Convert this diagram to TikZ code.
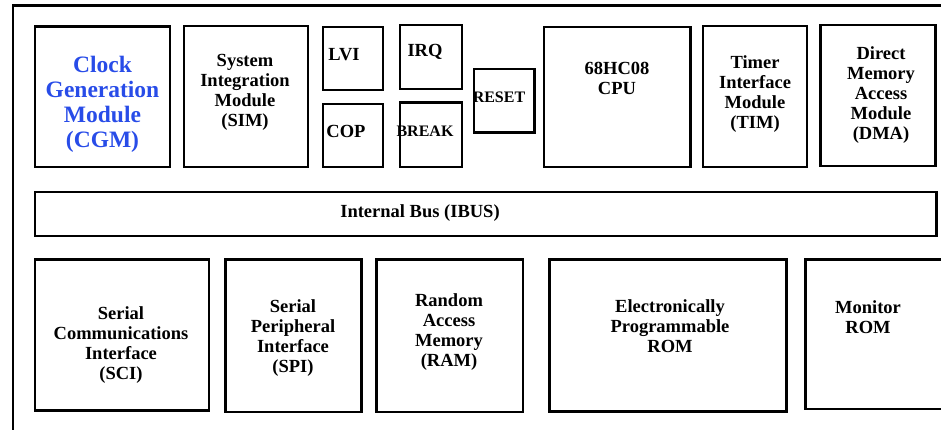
\documentclass[tikz,border=0pt]{standalone}
\usepackage{fontspec}
\setmainfont{Liberation Serif}
\usetikzlibrary{positioning, fit}

\definecolor{cgmblue}{RGB}{40,76,232}

\begin{document}
\begin{tikzpicture}[x=1pt, y=-1pt,
    blk/.style={draw, line width=2.6pt, inner sep=0pt},
    lbl/.style={inner sep=0pt, align=center, font=\fontsize{18.5}{20}\selectfont\bfseries},
    small/.style={inner sep=0pt, align=center, font=\fontsize{16}{18}\selectfont\bfseries}]

    \useasboundingbox (0, 0) rectangle (941, 429);
    \clip (0, 0) rectangle (941, 429);

    % outer frame, runs off the page to the right and bottom
    \draw[line width=2.6pt] (13, 460) -- (13, 5.5) -- (960, 5.5);

    % top row
    \node[blk, fit={(35, 26.5) (170, 167)}] (cgm) {};
    \node[blk, fit={(184, 26) (308, 167)}] (sim) {};
    \node[blk, fit={(323, 27) (383, 90)}] (lvi) {};
    \node[blk, fit={(323, 104) (383, 167)}] (cop) {};
    \node[blk, fit={(400, 25) (462, 89)}] (irq) {};
    \node[blk, fit={(400, 102.5) (462, 167)}] (brk) {};
    \node[blk, fit={(474, 69) (534.5, 132.5)}] (reset) {};
    \node[blk, fit={(544, 27) (690.5, 167)}] (cpu) {};
    \node[blk, fit={(703, 26) (807, 167)}] (tim) {};
    \node[blk, fit={(820.5, 25) (935.5, 166)}] (dma) {};

    \node[lbl, text=cgmblue, font=\fontsize{23.5}{25}\selectfont\bfseries] (cgmtxt) at (102.5, 104) {Clock\\Generation\\Module\\(CGM)};
    \node[lbl] (simtxt) at (245, 92) {System\\Integration\\Module\\(SIM)};
    \node[lbl] (lvitxt) at (344, 55) {LVI};
    \node[lbl] (coptxt) at (346, 131) {COP};
    \node[lbl] (irqtxt) at (425, 52) {IRQ};
    \node[small] (brktxt) at (425, 131) {BREAK};
    \node[small] (resettxt) at (499, 97) {RESET};
    \node[lbl] (cputxt) at (617, 78) {68HC08\\CPU};
    \node[lbl] (timtxt) at (755, 94) {Timer\\Interface\\Module\\(TIM)};
    \node[lbl] (dmatxt) at (881, 95) {Direct\\Memory\\Access\\Module\\(DMA)};

    % bus
    \node[blk, fit={(35, 192) (936.5, 236)}] (ibus) {};
    \node[lbl] (ibustxt) at (420, 213) {Internal Bus (IBUS)};

    % bottom row
    \node[blk, fit={(35, 259.5) (209, 410.5)}] (sci) {};
    \node[blk, fit={(225.5, 259.5) (361.5, 412)}] (spi) {};
    \node[blk, fit={(376.5, 259.5) (523, 412)}] (ram) {};
    \node[blk, fit={(549.5, 259.5) (786.5, 411.5)}] (eprom) {};
    \node[blk, fit={(805.5, 259.5) (948, 409)}] (mon) {};

    \node[lbl] (scitxt) at (121, 345) {Serial\\Communications\\Interface\\(SCI)};
    \node[lbl] (spitxt) at (293, 338) {Serial\\Peripheral\\Interface\\(SPI)};
    \node[lbl] (ramtxt) at (449, 332) {Random\\Access\\Memory\\(RAM)};
    \node[lbl] (epromtxt) at (670, 326) {Electronically\\Programmable\\ROM};
    \node[lbl] (montxt) at (868, 317) {Monitor\\ROM};

\end{tikzpicture}
\end{document}
